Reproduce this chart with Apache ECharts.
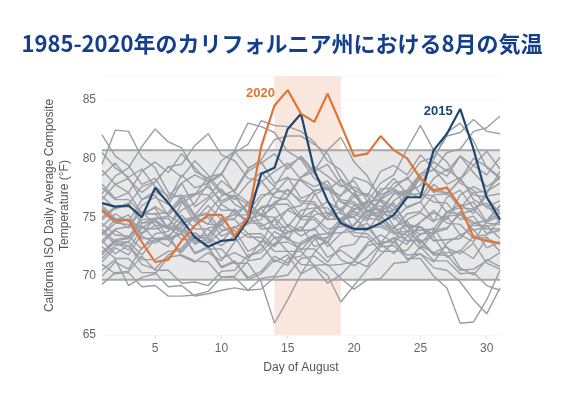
<!DOCTYPE html>
<html>
<head>
<meta charset="utf-8">
<script src="https://cdn.jsdelivr.net/npm/echarts@6/dist/echarts.min.js"></script>
<style>
  html, body { margin: 0; padding: 0; background: #fff; }
  #chart { width: 564px; height: 399px; }
</style>
</head>
<body>
<div id="chart"></div>
<script>
  const days = Array.from({ length: 31 }, (_, i) => String(i + 1))

  // highlighted years
  const y2020 = [75.6, 74.7, 74.8, 72.9, 71.2, 71.4, 73.0, 74.3, 75.2, 75.2, 73.4, 75.0, 81.0, 84.5, 85.8, 83.8, 83.1, 85.5, 82.9, 80.2,
    80.4, 81.9, 80.7, 80.0, 78.3, 77.3, 77.5, 75.9, 73.3, 73.0, 72.8]
  const y2015 = [76.2, 75.9, 76.0, 75.0, 77.5, 76.2, 74.8, 73.3, 72.5, 73.0, 73.1, 74.8, 78.7, 79.2, 82.5, 83.8, 79.0, 76.4, 74.5, 74.0,
    74.0, 74.5, 75.2, 76.7, 76.7, 80.7, 82.1, 84.2, 80.8, 76.7, 74.8]

  // all other years 1985-2014, 2016-2019 (gray)
  const others = [
    [82.0, 80.2, 79.4, 77.8, 78.3, 76.6, 76.9, 75.2, 76.5, 77.4, 76.1, 75.5, 76.9, 77.0, 78.3, 78.1, 77.2, 77.6, 75.3, 75.0, 73.9, 75.4, 75.6, 76.9, 77.0, 76.3, 76.2, 74.8, 75.1, 73.6, 73.9],
    [79.5, 82.4, 82.3, 80.1, 79.2, 77.1, 76.6, 75.0, 75.3, 73.9, 74.1, 74.9, 75.2, 77.1, 77.3, 76.4, 76.3, 74.8, 74.9, 75.7, 75.8, 77.4, 77.5, 78.4, 77.0, 76.8, 75.4, 75.3, 73.9, 74.2, 74.6],
    [77.0, 78.5, 79.2, 81.0, 82.5, 81.4, 80.9, 78.9, 78.3, 77.0, 76.8, 75.4, 75.3, 74.2, 75.7, 76.0, 77.3, 77.4, 76.5, 76.3, 75.2, 75.1, 74.0, 75.3, 75.5, 76.9, 77.0, 78.2, 76.9, 76.7, 75.3],
    [75.0, 75.9, 76.1, 77.6, 78.0, 79.3, 79.5, 81.1, 82.1, 80.3, 79.8, 78.3, 78.1, 76.7, 76.5, 75.1, 75.0, 74.0, 74.2, 74.3, 75.6, 75.7, 77.0, 77.1, 78.3, 77.2, 77.1, 75.8, 75.7, 74.5, 74.4],
    [73.5, 74.5, 74.8, 74.1, 74.0, 74.3, 75.6, 76.2, 77.9, 78.6, 80.7, 83.0, 82.7, 82.2, 80.6, 79.9, 78.3, 77.7, 76.3, 76.1, 74.9, 74.8, 73.7, 73.8, 72.8, 73.9, 74.1, 75.3, 75.6, 76.8, 77.0],
    [76.0, 74.9, 74.8, 73.6, 74.9, 75.1, 76.6, 76.9, 78.4, 78.7, 80.5, 81.2, 83.2, 82.8, 82.7, 82.3, 81.4, 79.8, 79.0, 77.3, 76.8, 75.3, 75.1, 73.8, 73.9, 74.0, 75.5, 75.8, 77.1, 77.2, 78.5],
    [72.0, 73.1, 73.3, 74.8, 74.9, 74.9, 73.7, 75.1, 75.4, 76.8, 77.3, 79.1, 79.9, 81.6, 81.9, 81.9, 81.2, 80.4, 78.3, 77.3, 75.5, 75.2, 73.7, 73.5, 72.3, 73.7, 74.0, 75.5, 74.3, 74.3, 73.2],
    [74.0, 72.9, 72.9, 71.8, 73.1, 73.3, 74.8, 75.0, 74.4, 74.4, 73.3, 74.6, 74.8, 76.3, 76.7, 78.4, 78.9, 80.7, 81.8, 79.7, 78.5, 76.5, 75.9, 74.4, 74.2, 73.0, 73.1, 73.2, 74.5, 74.7, 76.0],
    [71.5, 72.6, 72.9, 74.3, 73.1, 73.1, 72.0, 73.3, 73.5, 74.9, 75.2, 75.2, 74.0, 74.1, 74.2, 75.6, 75.8, 75.8, 74.6, 76.0, 76.3, 77.9, 78.6, 80.8, 82.8, 80.7, 79.7, 77.9, 77.3, 75.8, 75.6],
    [74.5, 73.5, 73.4, 72.3, 73.6, 73.8, 75.2, 74.0, 74.0, 72.9, 74.2, 74.4, 75.9, 76.1, 76.1, 74.8, 74.8, 73.6, 73.7, 73.8, 75.2, 75.5, 77.0, 77.3, 78.7, 79.0, 80.5, 80.8, 82.3, 82.6, 83.6],
    [77.5, 76.5, 76.5, 75.3, 75.3, 75.4, 76.8, 77.0, 76.9, 75.6, 75.6, 74.4, 75.8, 76.0, 77.4, 76.2, 76.1, 74.8, 74.9, 75.0, 76.3, 76.5, 77.9, 78.2, 79.7, 80.1, 81.9, 82.2, 83.3, 82.3, 82.1],
    [73.0, 74.0, 74.2, 75.5, 74.3, 74.3, 73.1, 73.2, 73.3, 74.7, 74.9, 76.3, 75.1, 75.0, 73.8, 73.9, 73.9, 75.2, 75.4, 76.8, 77.0, 76.3, 75.6, 77.1, 77.7, 79.9, 82.2, 83.0, 81.5, 79.2, 78.3],
    [71.0, 70.2, 70.3, 69.1, 69.2, 68.3, 68.3, 68.4, 68.7, 69.9, 70.0, 71.3, 71.5, 72.8, 72.9, 72.3, 72.3, 71.2, 72.5, 72.7, 74.1, 74.2, 73.6, 73.0, 73.1, 71.9, 72.0, 72.1, 73.4, 73.5, 74.8],
    [72.5, 71.5, 71.5, 70.3, 70.3, 69.1, 69.2, 68.3, 68.5, 68.8, 69.0, 68.8, 69.8, 70.0, 71.5, 71.7, 73.1, 73.3, 74.6, 73.4, 73.3, 72.1, 72.1, 72.2, 73.6, 73.7, 75.1, 75.2, 74.6, 74.0, 74.0],
    [73.8, 72.7, 72.6, 71.4, 71.4, 72.1, 72.2, 73.5, 72.3, 72.3, 71.1, 71.1, 69.5, 66.0, 68.0, 70.2, 72.0, 73.3, 74.5, 75.6, 76.4, 75.5, 75.4, 74.2, 74.2, 73.0, 73.1, 73.2, 74.5, 74.7, 76.0],
    [74.8, 75.8, 75.9, 75.3, 75.3, 74.1, 74.1, 73.0, 72.8, 73.8, 74.2, 73.3, 73.3, 72.1, 72.1, 71.0, 70.9, 70.1, 67.8, 69.2, 70.6, 71.8, 72.9, 73.8, 74.6, 75.6, 74.5, 74.4, 73.2, 73.3, 72.1],
    [72.0, 73.0, 73.2, 74.5, 74.6, 74.0, 73.9, 72.8, 74.1, 74.3, 75.7, 74.5, 74.5, 73.3, 73.3, 72.2, 73.5, 73.6, 74.9, 73.7, 73.6, 72.5, 72.6, 71.5, 71.5, 70.0, 69.0, 66.0, 66.1, 68.0, 70.5],
    [75.5, 74.5, 74.4, 73.2, 73.2, 73.3, 74.6, 74.8, 76.0, 74.8, 74.8, 73.6, 73.6, 72.5, 73.8, 73.9, 75.2, 75.4, 74.7, 74.1, 74.1, 72.9, 72.9, 71.8, 71.9, 70.7, 70.5, 69.5, 68.0, 66.8, 69.0],
    [69.3, 70.3, 70.4, 71.7, 70.5, 70.5, 69.4, 69.5, 69.2, 70.4, 70.5, 71.8, 72.0, 73.3, 72.1, 72.1, 70.9, 71.0, 69.8, 68.9, 69.7, 69.8, 71.1, 71.2, 72.5, 71.3, 71.3, 70.2, 70.3, 69.2, 68.8],
    [70.5, 71.4, 69.2, 69.9, 70.2, 71.6, 71.8, 71.3, 71.2, 69.9, 69.9, 68.8, 68.9, 69.9, 70.1, 71.5, 71.7, 70.9, 71.0, 71.2, 72.6, 72.8, 74.2, 73.0, 73.0, 71.8, 71.8, 70.5, 70.6, 71.3, 72.0],
    [78.5, 79.6, 78.2, 77.1, 78.0, 79.3, 78.4, 79.8, 78.6, 77.2, 76.5, 77.9, 78.8, 77.6, 79.4, 80.1, 78.7, 77.3, 78.2, 76.8, 75.9, 77.1, 78.3, 77.0, 78.6, 79.7, 78.9, 80.2, 78.8, 77.6, 78.3],
    [80.5, 79.2, 78.4, 79.1, 77.6, 76.8, 77.9, 75.9, 76.7, 78.1, 77.2, 78.9, 79.6, 80.4, 79.1, 80.2, 78.9, 79.5, 77.8, 76.9, 75.4, 76.5, 74.8, 75.9, 76.3, 77.8, 76.9, 78.2, 79.4, 78.6, 80.1],
    [76.5, 77.8, 77.1, 78.9, 79.7, 78.8, 80.4, 79.2, 78.0, 78.7, 77.1, 76.3, 75.1, 75.9, 74.2, 73.4, 74.1, 72.5, 73.6, 74.4, 75.6, 74.9, 76.4, 77.2, 76.6, 78.3, 79.1, 78.2, 80.0, 79.3, 78.4],
    [73.0, 71.9, 72.6, 71.0, 70.6, 71.8, 72.4, 73.7, 72.9, 74.6, 75.3, 74.8, 76.6, 77.5, 76.9, 78.4, 79.3, 78.5, 77.6, 78.1, 76.4, 75.5, 76.2, 74.3, 73.5, 74.1, 72.4, 71.9, 72.8, 71.1, 70.6],
    [71.8, 72.9, 72.2, 74.1, 74.8, 74.0, 76.2, 76.9, 77.6, 76.4, 76.9, 75.2, 75.8, 74.1, 73.6, 74.2, 72.5, 72.9, 71.4, 70.9, 71.6, 72.7, 71.9, 73.4, 74.2, 73.5, 75.4, 76.1, 75.3, 77.2, 77.9],
    [75.8, 74.7, 75.2, 73.4, 72.8, 73.5, 71.7, 71.2, 72.0, 71.3, 72.9, 73.6, 72.8, 74.9, 75.6, 75.0, 76.9, 77.5, 76.8, 78.4, 78.0, 76.9, 77.4, 75.8, 76.3, 74.7, 75.1, 73.5, 74.0, 72.4, 72.9],
    [79.0, 77.8, 78.3, 76.5, 76.9, 75.1, 74.5, 75.0, 73.2, 72.6, 73.4, 71.6, 72.3, 73.8, 73.1, 74.9, 75.6, 74.8, 76.9, 77.6, 76.8, 78.9, 79.4, 78.6, 80.3, 79.1, 77.8, 78.4, 76.5, 75.9, 76.4],
    [74.2, 75.3, 74.6, 76.5, 77.2, 76.4, 78.6, 77.5, 77.9, 76.1, 75.4, 76.0, 74.2, 74.8, 73.1, 72.7, 73.3, 71.6, 72.2, 71.4, 72.8, 73.5, 72.9, 74.8, 75.4, 74.6, 76.7, 77.3, 75.8, 76.2, 74.5],
    [72.8, 73.9, 73.2, 75.1, 75.9, 75.2, 76.4, 74.6, 75.0, 73.4, 73.9, 72.1, 72.7, 71.2, 71.8, 70.2, 70.8, 69.4, 70.1, 71.3, 70.8, 72.6, 73.3, 72.7, 74.6, 75.4, 74.8, 76.9, 77.6, 77.0, 78.9],
    [77.8, 76.6, 77.1, 75.3, 75.8, 74.0, 74.5, 72.7, 73.2, 71.5, 72.0, 71.4, 73.0, 72.6, 74.4, 73.8, 75.7, 76.3, 75.6, 77.1, 75.4, 76.0, 74.2, 74.7, 72.9, 73.4, 71.6, 72.2, 71.5, 73.2, 72.7],
    [70.0, 71.2, 70.6, 72.4, 73.1, 72.5, 74.3, 75.1, 74.4, 76.2, 76.8, 76.1, 78.0, 78.9, 79.6, 78.2, 77.6, 78.1, 76.3, 75.7, 76.2, 74.4, 73.8, 74.3, 72.6, 72.0, 72.5, 70.7, 70.1, 71.4, 70.8],
    [76.8, 75.7, 76.2, 74.5, 74.9, 73.2, 73.7, 72.0, 72.5, 70.8, 71.3, 69.7, 70.2, 71.4, 70.9, 72.7, 73.4, 72.8, 74.6, 75.3, 74.7, 76.5, 77.2, 76.6, 78.4, 79.1, 78.5, 80.2, 79.4, 80.6, 79.1],
    [73.6, 74.8, 74.1, 76.0, 76.7, 76.1, 77.9, 78.6, 78.0, 79.8, 80.6, 79.2, 79.7, 77.9, 78.4, 76.6, 77.1, 75.3, 75.8, 74.0, 74.5, 72.7, 73.2, 71.4, 71.9, 71.2, 72.8, 73.5, 72.9, 74.7, 75.4],
    [71.2, 72.4, 71.8, 73.6, 74.3, 73.1, 73.6, 71.9, 72.4, 70.7, 71.2, 69.9, 70.4, 71.7, 71.1, 72.9, 73.5, 72.9, 74.8, 75.5, 74.9, 76.7, 77.4, 76.8, 78.3, 77.1, 77.6, 75.9, 76.3, 74.6, 75.1]
  ]

  const heatWave = [14, 19]       // shaded days
  const normalBand = [69.7, 80.7] // gray reference band
  const yRange = [65, 87]
  const yTicks = [65, 85]

  const chart = echarts.init(document.getElementById('chart'))

  const grayLines = others.map((vals, i) => ({
    name: 'y' + i,
    type: 'line',
    data: vals,
    symbol: 'none',
    silent: true,
    lineStyle: { color: '#9a9ea6', width: 1.4 },
    z: 3
  }))

  const bandEdge = { color: '#a8a8a8', width: 2 }
  const inHeat = d => +d >= heatWave[0] && +d <= heatWave[1]
  const heatFill = { color: '#f9e6dd', opacity: 1 }
  const hidden = { width: 0, opacity: 0 }

  chart.setOption({
    animation: false,
    title: {
      text: '1985-2020年のカリフォルニア州における8月の気温',
      left: 'center',
      top: 28,
      textStyle: {
        fontFamily: 'Noto Sans CJK JP',
        fontSize: 22,
        fontWeight: 'bold',
        color: '#153f8a'
      }
    },
    grid: { left: 102, right: 64, top: 76, bottom: 64 },
    xAxis: {
      type: 'category',
      data: days,
      boundaryGap: false,
      name: 'Day of August',
      nameLocation: 'middle',
      nameGap: 27,
      nameTextStyle: { color: '#555', fontSize: 12, fontFamily: 'Liberation Sans' },
      axisLine: { show: false },
      axisTick: {
        show: true,
        interval: (i, v) => Number(v) % 5 === 0,
        length: 4,
        lineStyle: { color: '#e4e4e4' }
      },
      axisLabel: {
        interval: (i, v) => Number(v) % 5 === 0,
        color: '#666',
        fontSize: 12,
        margin: 8,
        fontFamily: 'Liberation Sans'
      },
      splitLine: { show: false }
    },
    yAxis: {
      type: 'value',
      min: yRange[0],
      max: yRange[1],
      interval: 5,
      name: 'California ISO Daily Average Composite\nTemperature (°F)',
      nameLocation: 'middle',
      nameRotate: 90,
      nameGap: 26,
      nameTextStyle: { color: '#555', fontSize: 12, lineHeight: 15, fontFamily: 'Liberation Sans' },
      axisLine: { show: false },
      axisTick: { show: false },
      axisLabel: {
        color: '#666',
        fontSize: 12,
        margin: 6,
        fontFamily: 'Liberation Sans',
        formatter: v => (v % 5 === 0 && v <= yTicks[1]) ? v : ''
      },
      splitLine: { show: true, lineStyle: { color: '#f0f0f0', type: 'dotted' } }
    },
    series: [
      // heat-wave shading, split so it never sits inside the gray band
      {
        name: 'heatLow',
        type: 'line',
        data: days.map(d => inHeat(d) ? normalBand[0] : null),
        symbol: 'none',
        silent: true,
        lineStyle: hidden,
        areaStyle: Object.assign({ origin: 'start' }, heatFill),
        z: 1
      },
      {
        name: 'heatBase',
        type: 'line',
        stack: 'heat',
        data: days.map(d => inHeat(d) ? normalBand[1] : null),
        symbol: 'none',
        silent: true,
        lineStyle: hidden,
        z: 1
      },
      {
        name: 'heatHigh',
        type: 'line',
        stack: 'heat',
        data: days.map(d => inHeat(d) ? +(yRange[1] - normalBand[1]).toFixed(1) : null),
        symbol: 'none',
        silent: true,
        lineStyle: hidden,
        areaStyle: heatFill,
        z: 1
      },
      // normal range band as a stacked area
      {
        name: 'bandLow',
        type: 'line',
        stack: 'band',
        data: days.map(() => normalBand[0]),
        symbol: 'none',
        silent: true,
        lineStyle: bandEdge,
        z: 2
      },
      {
        name: 'bandHigh',
        type: 'line',
        stack: 'band',
        data: days.map(() => +(normalBand[1] - normalBand[0]).toFixed(1)),
        symbol: 'none',
        silent: true,
        lineStyle: bandEdge,
        areaStyle: { color: '#e8e8e8', opacity: 1 },
        z: 2
      },
      ...grayLines,
      {
        name: '2015',
        type: 'line',
        data: y2015,
        symbol: 'none',
        lineStyle: { color: '#1d4670', width: 2.2 },
        z: 5,
        markPoint: {
          symbolSize: 0,
          label: {
            show: true,
            formatter: '2015',
            color: '#1d4670',
            fontWeight: 'bold',
            fontSize: 13,
            fontFamily: 'Liberation Sans',
            offset: [-22, 2]
          },
          data: [{ coord: ['28', y2015[27]] }]
        }
      },
      {
        name: '2020',
        type: 'line',
        data: y2020,
        symbol: 'none',
        lineStyle: { color: '#e07535', width: 2.2 },
        z: 6,
        markPoint: {
          symbolSize: 0,
          label: {
            show: true,
            formatter: '2020',
            color: '#e07535',
            fontWeight: 'bold',
            fontSize: 13,
            fontFamily: 'Liberation Sans',
            offset: [-14, -12]
          },
          data: [{ coord: ['14', y2020[13]] }]
        }
      }
    ]
  })
</script>
</body>
</html>
